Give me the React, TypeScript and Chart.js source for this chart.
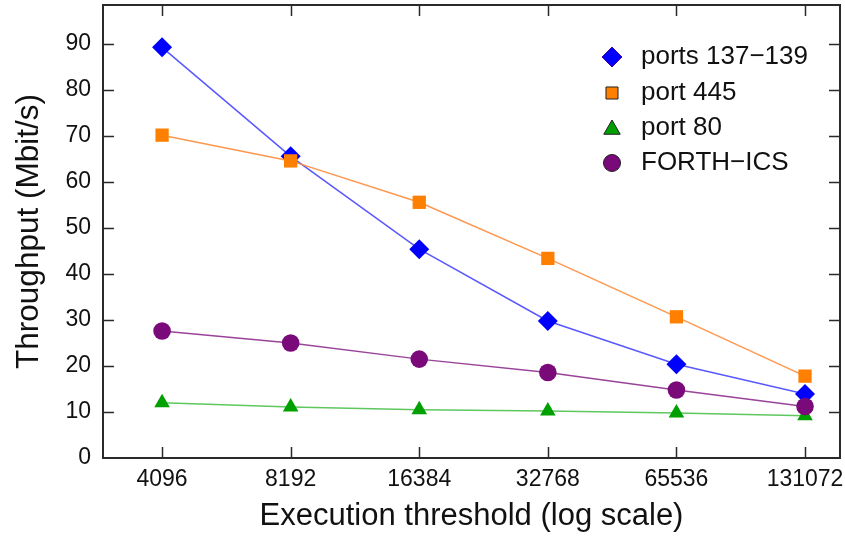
import React, { useEffect, useRef } from 'react';
import { Chart, registerables } from 'chart.js';

Chart.register(...registerables);

// ---- data ----
const thresholds = [4096, 8192, 16384, 32768, 65536, 131072];
const ports137to139 = [89.3, 65.6, 45.4, 29.8, 20.4, 13.9];
const port445 = [70.2, 64.6, 55.6, 43.4, 30.7, 17.8];
const port80 = [12.0, 11.1, 10.5, 10.2, 9.8, 9.2];
const forthIcs = [27.6, 25.0, 21.5, 18.6, 14.8, 11.2];
const seriesLabels = ['ports 137\u2212139', 'port 445', 'port 80', 'FORTH\u2212ICS'];
const yTickValues = [0, 10, 20, 30, 40, 50, 60, 70, 80, 90];
const xTitle = 'Execution threshold (log scale)';
const yTitle = 'Throughput (Mbit/s)';

const FONT = "'Liberation Sans', Arial, Helvetica, sans-serif";

function markerPath(ctx: CanvasRenderingContext2D, style: string, x: number, y: number, r: number) {
  ctx.beginPath();
  if (style === 'rectRot') {
    ctx.moveTo(x, y - r);
    ctx.lineTo(x + r, y);
    ctx.lineTo(x, y + r);
    ctx.lineTo(x - r, y);
    ctx.closePath();
  } else if (style === 'rect') {
    const s = r * Math.SQRT1_2;
    ctx.rect(x - s, y - s, 2 * s, 2 * s);
  } else if (style === 'triangle') {
    ctx.moveTo(x, y - r);
    ctx.lineTo(x + r * 0.866, y + r * 0.5);
    ctx.lineTo(x - r * 0.866, y + r * 0.5);
    ctx.closePath();
  } else {
    ctx.arc(x, y, r, 0, Math.PI * 2);
  }
}

const zeroPadding = (s: any) => {
  s.paddingTop = 0;
  s.paddingBottom = 0;
  s.paddingLeft = 0;
  s.paddingRight = 0;
};

const framePlugin = {
  id: 'frameTicksLegend',
  afterDraw(chart: any) {
    const { ctx, chartArea } = chart;
    const { left, right, top, bottom } = chartArea;
    const xs = chart.scales.x;
    const ys = chart.scales.y;
    const tl = 11;
    ctx.save();
    ctx.strokeStyle = '#2a2a2a';
    ctx.lineWidth = 1.5;
    // inward ticks on all four sides
    ctx.beginPath();
    ys.ticks.forEach((t: any) => {
      if (t.value === 0) return;
      const py = Math.round(ys.getPixelForValue(t.value)) + 0.5;
      ctx.moveTo(left, py);
      ctx.lineTo(left + tl, py);
      ctx.moveTo(right, py);
      ctx.lineTo(right - tl, py);
    });
    xs.ticks.forEach((t: any) => {
      const px = Math.round(xs.getPixelForValue(t.value)) + 0.5;
      ctx.moveTo(px, bottom);
      ctx.lineTo(px, bottom - tl);
      ctx.moveTo(px, top);
      ctx.lineTo(px, top + tl);
    });
    ctx.stroke();
    // frame
    ctx.lineWidth = 2;
    ctx.strokeRect(left, top, right - left, bottom - top);

    // legend
    const rowY = [57, 93, 128, 163];
    const markerX = 612;
    const textX = 641;
    ctx.font = `26px ${FONT}`;
    ctx.textBaseline = 'middle';
    ctx.textAlign = 'left';
    chart.data.datasets.forEach((ds: any, i: number) => {
      const y = rowY[i];
      const style = ds.pointStyle;
      const r = style === 'rectRot' ? 10 : style === 'rect' ? 8.5 : style === 'triangle' ? 9.5 : 8.5;
      const yy = style === 'triangle' ? y + 1.5 : y;
      markerPath(ctx, style, markerX, yy, r);
      ctx.fillStyle = ds.pointBackgroundColor;
      ctx.fill();
      ctx.lineWidth = 1;
      ctx.strokeStyle = style === 'rectRot' ? '#5000a0' : '#202020';
      ctx.stroke();
      ctx.fillStyle = '#111111';
      ctx.fillText(ds.label, textX, y);
    });
    ctx.restore();
  },
};

export default function App() {
  const canvasRef = useRef<HTMLCanvasElement | null>(null);

  useEffect(() => {
    const canvas = canvasRef.current;
    if (!canvas) return;
    const mk = (i: number, values: number[], line: string, fill: string, style: string, radius: number, order: number) => ({
      label: seriesLabels[i],
      data: thresholds.map((t, k) => ({ x: t, y: values[k] })),
      borderColor: line,
      borderWidth: 1.5,
      pointStyle: style,
      pointRadius: radius,
      pointHoverRadius: radius,
      pointBackgroundColor: fill,
      pointBorderWidth: 0,
      pointBorderColor: fill,
      tension: 0,
      fill: false,
      clip: false,
      order,
    });
    const chart = new Chart(canvas, {
      type: 'line',
      data: {
        datasets: [
          mk(0, ports137to139, 'rgba(70,70,255,0.9)', '#0000ff', 'rectRot', 10, 4),
          mk(1, port445, 'rgba(255,140,60,0.9)', '#ff8000', 'rect', 9.4, 3),
          mk(2, port80, 'rgba(40,180,40,0.75)', '#00a000', 'triangle', 9, 2),
          mk(3, forthIcs, 'rgba(128,20,128,0.8)', '#7a0a7a', 'circle', 8.8, 1),
        ] as any,
      },
      options: {
        responsive: false,
        animation: false,
        layout: { autoPadding: false, padding: { top: 5, right: 5, left: 0, bottom: 0 } },
        plugins: { legend: { display: false }, tooltip: { enabled: false } },
        events: [],
        scales: {
          x: {
            type: 'logarithmic',
            min: 2979,
            max: 158270,
            afterBuildTicks: (s: any) => {
              s.ticks = thresholds.map((v) => ({ value: v }));
            },
            afterFit: (s: any) => {
              s.height = 78;
              zeroPadding(s);
            },
            ticks: {
              callback: (v: any) => String(v),
              font: { family: FONT, size: 23 },
              color: '#111111',
              padding: 8,
              autoSkip: false,
              maxRotation: 0,
              minRotation: 0,
            },
            grid: { display: false, drawTicks: false },
            border: { display: false },
            title: {
              display: true,
              text: xTitle,
              font: { family: FONT, size: 31 },
              color: '#111111',
              padding: { top: 0, bottom: 1 },
            },
          },
          y: {
            type: 'linear',
            min: 0,
            max: 98.5,
            afterBuildTicks: (s: any) => {
              s.ticks = yTickValues.map((v) => ({ value: v }));
            },
            afterFit: (s: any) => {
              s.width = 103;
              zeroPadding(s);
            },
            ticks: {
              font: { family: FONT, size: 23 },
              color: '#111111',
              padding: 12,
            },
            grid: { display: false, drawTicks: false },
            border: { display: false },
            title: {
              display: true,
              text: yTitle,
              font: { family: FONT, size: 31.5 },
              color: '#111111',
              padding: { top: 10, bottom: 0 },
            },
          },
        },
      } as any,
      plugins: [framePlugin],
    });
    return () => chart.destroy();
  }, []);

  return (
    <div style={{ position: 'absolute', left: 0, top: 0, width: 845, height: 536, background: '#ffffff' }}>
      <canvas ref={canvasRef} width={845} height={536} style={{ display: 'block' }} />
    </div>
  );
}
